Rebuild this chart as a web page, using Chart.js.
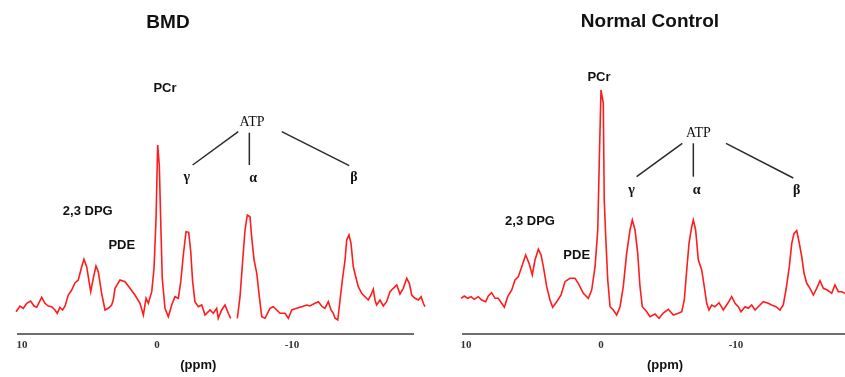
<!DOCTYPE html>
<html><head><meta charset="utf-8">
<script src="https://cdn.jsdelivr.net/npm/chart.js@4.4.1/dist/chart.umd.min.js"></script>
<style>
html,body{margin:0;padding:0;background:#fff;width:845px;height:377px;overflow:hidden;}
#wrapL{position:absolute;left:0;top:0;width:430px;height:377px;}
#wrapR{position:absolute;left:430px;top:0;width:415px;height:377px;}
.title{position:absolute;font-family:"Liberation Sans",Arial,sans-serif;font-weight:bold;font-size:19px;color:#111;transform:translate(-50%,-50%);white-space:nowrap;}
</style></head><body>
<div id="wrapL"><canvas id="cL" width="430" height="377"></canvas></div>
<div id="wrapR"><canvas id="cR" width="415" height="377"></canvas></div>
<div class="title" style="left:168px;top:22px">BMD</div>
<div class="title" style="left:650px;top:21px">Normal Control</div>
<script>
// ---- data (chemical shift in ppm, signal intensity in arbitrary units) ----
const tickValues = [10, 0, -10];
const tickLabels = ['10', '0', '-10'];

const bmdPpm = [10.44,10.15,9.90,9.65,9.36,9.11,8.91,8.54,8.30,8.05,7.80,7.56,7.39,7.19,6.99,6.81,6.57,6.32,6.07,5.83,5.58,5.41,5.21,4.91,4.72,4.52,4.35,4.10,3.85,3.61,3.36,3.24,3.11,2.74,2.37,2.00,1.63,1.26,1.01,0.81,0.64,0.39,0.22,0.07,-0.05,-0.17,-0.27,-0.39,-0.59,-0.84,-1.09,-1.33,-1.58,-1.76,-1.95,-2.15,-2.35,-2.50,-2.64,-2.81,-3.06,-3.31,-3.56,-3.93,-4.17,-4.42,-4.54,-4.79,-5.04,-5.28,-5.46,-5.70,-5.95,-6.15,-6.35,-6.52,-6.69,-6.89,-7.01,-7.19,-7.39,-7.58,-7.76,-8.00,-8.37,-8.61,-8.87,-9.11,-9.48,-9.73,-9.98,-10.35,-10.72,-11.09,-11.33,-11.70,-11.95,-12.24,-12.44,-12.69,-12.89,-13.06,-13.19,-13.39,-13.56,-13.73,-13.93,-14.05,-14.22,-14.37,-14.54,-14.72,-14.91,-15.16,-15.41,-15.65,-15.85,-16.02,-16.15,-16.27,-16.52,-16.76,-17.01,-17.26,-17.50,-17.76,-18.00,-18.24,-18.50,-18.69,-18.87,-19.11,-19.36,-19.56,-19.73,-19.85];
const bmdIntensity = [22.3,28,25.7,30.7,33,28,26.7,36.7,30.7,28,27.3,24,20.7,26.7,24,28,39,44,51.3,54,67.3,74.7,67.3,42.3,55.7,68,62.3,40.7,24,25.7,29,34,45.7,54,52.3,45.7,39,30.7,19,35.7,30.7,42.3,65.7,115.7,189,169,115.7,55.7,25.7,17.3,29,37.3,35.7,52.3,79,102.3,101.7,82.3,52.3,32.3,27.3,29,19,24,20.7,25.7,15.7,24,29,20.7,15.7,null,15.7,37.3,74,104,119,117.3,97.3,74,60.7,37.3,17.3,15.7,25.7,27.3,24,20.7,20.7,15.7,24,25.7,27.3,29,28,30.7,32.3,27.3,25.7,32.3,24,20.7,15.7,14,34,54,74,94,99,90.7,67.3,57.3,47.3,40.7,37.3,34,39,44.7,34,29,34,28,32.3,42.3,45.7,49,40,45.7,55.7,50.7,39,35.7,34,37.3,30.7,27.3];

const ctrlPpm = [10.37,10.13,9.87,9.63,9.39,9.09,8.84,8.54,8.35,8.10,7.85,7.61,7.36,7.16,6.91,6.61,6.37,6.13,5.87,5.58,5.33,5.09,4.89,4.64,4.44,4.27,4.02,3.78,3.58,3.28,2.96,2.67,2.30,1.93,1.68,1.31,0.94,0.69,0.44,0.24,0.13,0.00,-0.17,-0.24,-0.35,-0.50,-0.67,-0.91,-1.16,-1.41,-1.65,-1.90,-2.15,-2.32,-2.52,-2.72,-2.89,-3.06,-3.39,-3.63,-4.00,-4.30,-4.61,-4.99,-5.36,-5.73,-5.98,-6.17,-6.35,-6.52,-6.72,-6.84,-7.01,-7.21,-7.46,-7.65,-7.83,-8.00,-8.20,-8.44,-8.74,-9.06,-9.39,-9.68,-9.93,-10.17,-10.37,-10.67,-10.91,-11.16,-11.41,-11.65,-12.02,-12.39,-12.64,-12.96,-13.26,-13.50,-13.70,-13.95,-14.13,-14.30,-14.50,-14.69,-14.87,-15.04,-15.24,-15.48,-15.73,-15.98,-16.22,-16.47,-16.76,-17.09,-17.33,-17.58,-17.83,-18.07];
const ctrlIntensity = [35.7,38,35.7,37.3,34.7,37.3,34,32.3,38,41.3,35.7,35.7,30.7,26.7,37.3,44,54,57.3,67.3,79,70.7,59,74,84.7,79,67.3,47.3,34,26.7,32.3,39,52.3,55.7,55.7,50.7,40.7,35.7,44,67.3,104,170.7,244,230.7,134,97.3,54,27.3,24,19,27.3,47.3,80.7,104,114,104,80.7,47.3,27.3,22.3,17.3,20,15.7,21,24.7,19,20.7,22.3,34,64,90.7,107.3,114,104,74,64,47.3,30.7,24,29,27.3,31.3,24,30.7,37.3,30.7,27.3,22.3,27.3,25.7,29,24,27.3,32.3,30.7,29,27.3,24,29,44,67.3,90.7,100.7,103.3,90.7,77.3,60.7,50.7,45.7,39,45.7,53.3,45.7,44,40.7,49,42.3,42.3,40.7];

// ---- annotation plugin: labels anchored to (ppm, intensity) ----
const annotPlugin = {
  id: 'annot',
  afterDatasetsDraw(chart, args, opts) {
    const ctx = chart.ctx, x = chart.scales.x, y = chart.scales.y;
    ctx.save();
    ctx.strokeStyle = '#2a2a2a';
    ctx.lineWidth = 1.5;
    (opts.lines || []).forEach(l => {
      ctx.beginPath();
      ctx.moveTo(x.getPixelForValue(l[0]), y.getPixelForValue(l[1]));
      ctx.lineTo(x.getPixelForValue(l[2]), y.getPixelForValue(l[3]));
      ctx.stroke();
    });
    ctx.fillStyle = '#111';
    ctx.textAlign = 'center';
    ctx.textBaseline = 'middle';
    (opts.texts || []).forEach(t => {
      ctx.font = t.font;
      ctx.fillText(t.text, x.getPixelForValue(t.ppm), y.getPixelForValue(t.i));
    });
    if (opts.axisTitle) {
      ctx.font = 'bold 13px "Liberation Sans", Arial, sans-serif';
      ctx.fillText(opts.axisTitle.text, x.getPixelForValue(opts.axisTitle.ppm), chart.chartArea.bottom + 31);
    }
    ctx.restore();
  }
};

const SANS_B = 'bold 13px "Liberation Sans", Arial, sans-serif';
const SERIF = '14px "Liberation Serif", "Times New Roman", serif';
const SERIF_B = 'bold 14px "Liberation Serif", "Times New Roman", serif';

function makeChart(id, ppm, inten, xMin, xMax, pad, annot) {
  const pts = ppm.map((p, i) => ({ x: p, y: inten[i] }));
  return new Chart(document.getElementById(id), {
    type: 'line',
    data: { datasets: [{ data: pts, borderColor: 'rgb(255,28,28)', borderWidth: 1.6, pointRadius: 0, tension: 0, spanGaps: false, clip: false }] },
    options: {
      responsive: false, animation: false, devicePixelRatio: 1,
      layout: { padding: pad },
      plugins: { legend: { display: false }, tooltip: { enabled: false }, annot: annot },
      scales: {
        x: {
          type: 'linear', reverse: true, min: xMin, max: xMax,
          grid: { display: false, drawTicks: false },
          border: { display: true, color: '#6e6e6e', width: 2 },
          afterBuildTicks: s => { s.ticks = tickValues.map(v => ({ value: v })); },
          afterFit: s => { s.height = 43; },
          ticks: {
            padding: 5, color: '#333',
            font: { family: '"Liberation Serif", "Times New Roman", serif', size: 11, weight: 'bold' },
            callback: v => { const k = tickValues.indexOf(v); return k >= 0 ? tickLabels[k] : ''; }
          }
        },
        y: { display: false, min: 0, max: 304 }
      }
    },
    plugins: [annotPlugin]
  });
}

makeChart('cL', bmdPpm, bmdIntensity, -18.963, 10.296, { left: 18, right: 17, top: 30, bottom: 0 }, {
  lines: [[-6.02, 202.3, -2.64, 169], [-6.84, 201.3, -6.84, 169], [-9.24, 202.3, -14.24, 168.3]],
  texts: [
    { text: 'PCr', ppm: -0.59, i: 246, font: SANS_B },
    { text: 'ATP', ppm: -7.04, i: 212, font: SERIF },
    { text: 'γ', ppm: -2.20, i: 157, font: SERIF_B },
    { text: 'α', ppm: -7.13, i: 156, font: SERIF_B },
    { text: 'β', ppm: -14.59, i: 157, font: SERIF_B },
    { text: '2,3 DPG', ppm: 5.13, i: 123, font: SANS_B },
    { text: 'PDE', ppm: 2.61, i: 89, font: SANS_B }
  ],
  axisTitle: { text: '(ppm)', ppm: -3.06 }
});

makeChart('cR', ctrlPpm, ctrlIntensity, -18.074, 10.222, { left: 33, right: 0, top: 30, bottom: 0 }, {
  lines: [[-6.02, 190.7, -2.64, 157.3], [-6.84, 190.7, -6.84, 157.3], [-9.26, 190.7, -14.24, 156]],
  texts: [
    { text: 'PCr', ppm: 0.15, i: 257, font: SANS_B },
    { text: 'ATP', ppm: -7.21, i: 200.7, font: SERIF },
    { text: 'γ', ppm: -2.27, i: 144, font: SERIF_B },
    { text: 'α', ppm: -7.09, i: 144, font: SERIF_B },
    { text: 'β', ppm: -14.50, i: 144, font: SERIF_B },
    { text: '2,3 DPG', ppm: 5.26, i: 112.3, font: SANS_B },
    { text: 'PDE', ppm: 1.80, i: 79, font: SANS_B }
  ],
  axisTitle: { text: '(ppm)', ppm: -4.74 }
});
</script>
</body></html>
